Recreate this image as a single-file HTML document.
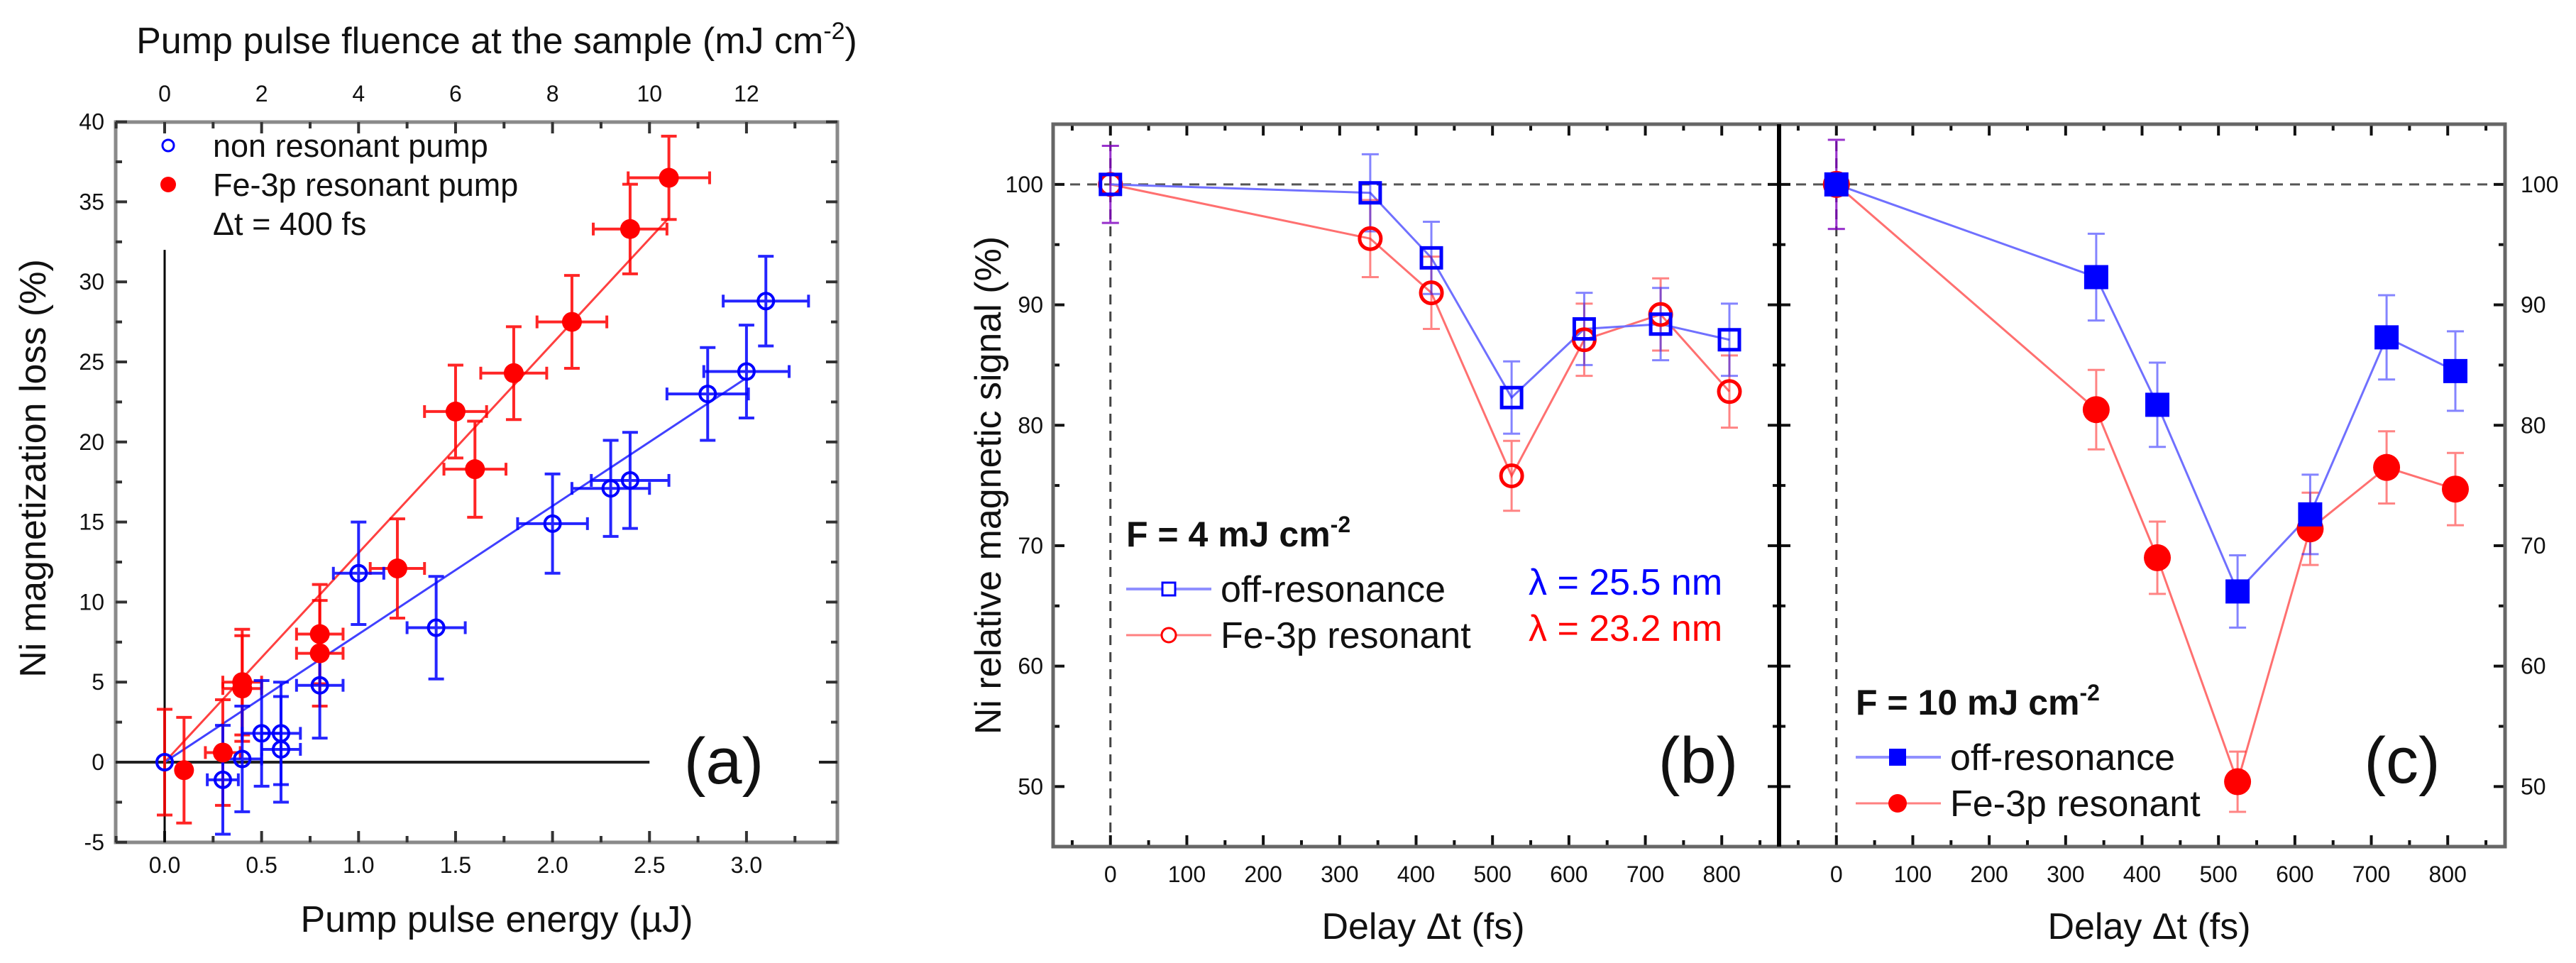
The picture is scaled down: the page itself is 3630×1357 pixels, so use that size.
<!DOCTYPE html>
<html><head><meta charset="utf-8"><style>
html,body{margin:0;padding:0;background:#fff;}
svg{display:block;font-family:"Liberation Sans",Arial,sans-serif;}
</style></head><body>
<svg id="chart" width="3630" height="1357" viewBox="0 0 3630 1357" xmlns="http://www.w3.org/2000/svg"></svg>
<script>
// ---- Panel (a) data ----
const aBlueX = [0, 0.3, 0.4, 0.5, 0.6, 0.6, 0.8, 1.0, 1.4, 2.0, 2.3, 2.4, 2.8, 3.0, 3.1];
const aBlueY = [0, -1.1, 0.2, 1.8, 1.8, 0.8, 4.8, 11.8, 8.4, 14.9, 17.1, 17.6, 23.0, 24.4, 28.8];
const aBlueYErr = [0, 3.4, 3.3, 3.3, 3.2, 3.3, 3.3, 3.2, 3.2, 3.1, 3.0, 3.0, 2.9, 2.9, 2.8];
const aBlueXErr = [0, 0.08, 0.1, 0.1, 0.1, 0.1, 0.12, 0.13, 0.15, 0.18, 0.2, 0.2, 0.21, 0.22, 0.22];
const aRedX = [0, 0.1, 0.3, 0.4, 0.4, 0.8, 0.8, 1.2, 1.5, 1.6, 1.8, 2.1, 2.4, 2.6];
const aRedY = [0, -0.5, 0.6, 5.0, 4.6, 8.0, 6.8, 12.1, 21.9, 18.3, 24.3, 27.5, 33.3, 36.5];
const aRedYErr = [3.3, 3.3, 3.3, 3.3, 3.3, 3.1, 3.3, 3.1, 2.9, 3.0, 2.9, 2.9, 2.8, 2.6];
const aRedXErr = [0, 0, 0.09, 0.1, 0.1, 0.12, 0.12, 0.14, 0.16, 0.16, 0.17, 0.18, 0.19, 0.21];
const aFitRed = [[0, 0], [2.6, 34]];
const aFitBlue = [[0, 0], [3.0, 24]];
const aXTicks = [0.0, 0.5, 1.0, 1.5, 2.0, 2.5, 3.0];
const aXTickLabels = ["0.0","0.5","1.0","1.5","2.0","2.5","3.0"];
const aYTicks = [-5, 0, 5, 10, 15, 20, 25, 30, 35, 40];
const aTopTicks = [0, 2, 4, 6, 8, 10, 12];
// ---- Panels (b),(c) data ----
const delays = [0, 340, 420, 525, 620, 720, 810];
const bOff = [100, 99.3, 93.9, 82.3, 88.0, 88.4, 87.1];
const bRes = [100, 95.5, 91.0, 75.8, 87.1, 89.2, 82.8];
const bOffErr = [3.2, 3.2, 3.0, 3.0, 3.0, 3.0, 3.0];
const bResErr = [3.2, 3.2, 3.0, 2.9, 3.0, 3.0, 3.0];
const cOff = [100, 92.3, 81.7, 66.2, 72.6, 87.3, 84.5];
const cRes = [100, 81.3, 69.0, 50.4, 71.4, 76.5, 74.7];
const cOffErr = [3.7, 3.6, 3.5, 3.0, 3.3, 3.5, 3.3];
const cResErr = [3.7, 3.3, 3.0, 2.5, 3.0, 3.0, 3.0];
const dXTicks = [0, 100, 200, 300, 400, 500, 600, 700, 800];
const dYTicks = [50, 60, 70, 80, 90, 100];

const svg = document.getElementById('chart');
const NS = 'http://www.w3.org/2000/svg';
function mk(tag, attrs, parent, text) {
  const e = document.createElementNS(NS, tag);
  for (const k in attrs) e.setAttribute(k, attrs[k]);
  if (text !== undefined) e.textContent = text;
  (parent || svg).appendChild(e);
  return e;
}
function grp(name) {
  const g = mk('g', {});
  
  
  return g;
}

// ===== Panel (a) =====
const AL = 163, AR = 1180, AT = 172, AB = 1187;
const ax = v => 232 + v * 273.3;
const ay = v => 1074 - v * 22.56;
const ga = grp('panel-a');
const aFrame = mk('rect', {x: AL, y: AT, width: AR - AL, height: AB - AT, fill: 'none', stroke: '#8a8a8a', 'stroke-width': 5}, ga);


// ticks
for (let v = -0.25; v <= 3.4; v += 0.25) {
  const major = Math.abs(v * 2 - Math.round(v * 2)) < 1e-6;
  const L = major ? 16 : 9;
  mk('line', {x1: ax(v), x2: ax(v), y1: AB, y2: AB - L, stroke: '#333', 'stroke-width': 4}, ga);
  mk('line', {x1: ax(v), x2: ax(v), y1: AT, y2: AT + L, stroke: '#333', 'stroke-width': 4}, ga);
}
for (let v = -5; v <= 40; v += 2.5) {
  const major = v % 5 === 0;
  const L = major ? 16 : 9;
  mk('line', {x1: AL, x2: AL + L, y1: ay(v), y2: ay(v), stroke: '#333', 'stroke-width': 4}, ga);
  mk('line', {x1: AR, x2: AR - L, y1: ay(v), y2: ay(v), stroke: '#333', 'stroke-width': 4}, ga);
}
aXTicks.forEach((v, i) => {
  const t = mk('text', {x: ax(v), y: 1230, 'font-size': 32, 'text-anchor': 'middle', fill: '#111'}, ga, aXTickLabels[i]);
  
  
});
aYTicks.forEach(v => {
  const t = mk('text', {x: 147, y: ay(v) + 11, 'font-size': 32, 'text-anchor': 'end', fill: '#111'}, ga, String(v));
  
  
});
aTopTicks.forEach(v => {
  const t = mk('text', {x: ax(v / 4), y: 143, 'font-size': 32, 'text-anchor': 'middle', fill: '#111'}, ga, String(v));
  
  
});
// titles
let t = mk('text', {x: 700, y: 75, 'font-size': 52, 'text-anchor': 'middle', fill: '#111'}, ga);


t.innerHTML = 'Pump pulse fluence at the sample (mJ cm<tspan dy="-20" font-size="34">-2</tspan><tspan dy="20">)</tspan>';
t = mk('text', {x: 700, y: 1313, 'font-size': 52, 'text-anchor': 'middle', fill: '#111'}, ga, 'Pump pulse energy (\u00b5J)');


t = mk('text', {x: 0, y: 0, 'font-size': 52, 'text-anchor': 'middle', fill: '#111', transform: 'translate(64,660) rotate(-90)'}, ga, 'Ni magnetization loss (%)');


// reference lines
mk('line', {x1: ax(0), x2: ax(0), y1: ay(32), y2: AB, stroke: '#000', 'stroke-width': 3}, ga);
mk('line', {x1: AL, x2: ax(2.5), y1: ay(0), y2: ay(0), stroke: '#222', 'stroke-width': 4}, ga);
mk('line', {x1: 1154, x2: AR, y1: ay(0), y2: ay(0), stroke: '#222', 'stroke-width': 4}, ga);
// fits
mk('line', {x1: ax(aFitRed[0][0]), y1: ay(aFitRed[0][1]), x2: ax(aFitRed[1][0]), y2: ay(aFitRed[1][1]), stroke: '#ff4040', 'stroke-width': 3}, ga);
mk('line', {x1: ax(aFitBlue[0][0]), y1: ay(aFitBlue[0][1]), x2: ax(aFitBlue[1][0]), y2: ay(aFitBlue[1][1]), stroke: '#4040ff', 'stroke-width': 3}, ga);
function errA(x, y, xe, ye, col) {
  const g = mk('g', {stroke: col, 'stroke-width': 4, opacity: 0.85}, ga);
  mk('line', {x1: ax(x), x2: ax(x), y1: ay(y - ye), y2: ay(y + ye)}, g);
  mk('line', {x1: ax(x) - 11, x2: ax(x) + 11, y1: ay(y - ye), y2: ay(y - ye)}, g);
  mk('line', {x1: ax(x) - 11, x2: ax(x) + 11, y1: ay(y + ye), y2: ay(y + ye)}, g);
  if (xe > 0) {
    mk('line', {x1: ax(x - xe), x2: ax(x + xe), y1: ay(y), y2: ay(y)}, g);
    mk('line', {x1: ax(x - xe), x2: ax(x - xe), y1: ay(y) - 9, y2: ay(y) + 9}, g);
    mk('line', {x1: ax(x + xe), x2: ax(x + xe), y1: ay(y) - 9, y2: ay(y) + 9}, g);
  }
}
aRedX.forEach((x, i) => errA(x, aRedY[i], aRedXErr[i], aRedYErr[i], '#ff0000'));
aBlueX.forEach((x, i) => { if (i > 0) errA(x, aBlueY[i], aBlueXErr[i], aBlueYErr[i], '#0000ff'); });
aRedX.forEach((x, i) => {
  if (i === 0) return;
  const c = mk('circle', {cx: ax(x), cy: ay(aRedY[i]), r: 14, fill: '#ff0000'}, ga);
  
  
});
aBlueX.forEach((x, i) => {
  const c = mk('circle', {cx: ax(x), cy: ay(aBlueY[i]), r: 11, fill: 'none', stroke: '#0000ff', 'stroke-width': 4}, ga);
  
  
});
// legend a
const lga = grp('legend-a');
mk('circle', {cx: 237, cy: 205, r: 8, fill: 'none', stroke: '#0000ff', 'stroke-width': 3}, lga);
mk('circle', {cx: 237, cy: 260, r: 11, fill: '#ff0000'}, lga);
mk('text', {x: 300, y: 221, 'font-size': 45, fill: '#111'}, lga, 'non resonant pump');
mk('text', {x: 300, y: 276, 'font-size': 45, fill: '#111'}, lga, 'Fe-3p resonant pump');
mk('text', {x: 300, y: 331, 'font-size': 45, fill: '#111'}, lga, '\u0394t = 400 fs');
t = mk('text', {x: 1020, y: 1104, 'font-size': 92, 'text-anchor': 'middle', fill: '#111'}, ga, '(a)');



// ===== Panels (b),(c) =====
const DT = 175, DB = 1193;
const dy = v => DT + (105 - v) * 16.97;
function panel(name, L, R, off, res, offE, resE, filled, legendX, legendY, title, lbl, lblX, leftLabels) {
  const g = grp(name);
  const dx = v => L + (v + 75) * (R - L) / 950;
  // dashed lines
  mk('line', {x1: dx(0), x2: dx(0), y1: DT, y2: DB, stroke: '#444', 'stroke-width': 3, 'stroke-dasharray': '14,10'}, g);
  mk('line', {x1: L, x2: R, y1: dy(100), y2: dy(100), stroke: '#555', 'stroke-width': 3, 'stroke-dasharray': '14,10'}, g);
  // ticks
  for (let v = -50; v <= 850; v += 50) {
    const L2 = v % 100 === 0 ? 16 : 9;
    mk('line', {x1: dx(v), x2: dx(v), y1: DB, y2: DB - L2, stroke: '#111', 'stroke-width': 4}, g);
    mk('line', {x1: dx(v), x2: dx(v), y1: DT, y2: DT + L2, stroke: '#111', 'stroke-width': 4}, g);
  }
  for (let v = 50; v <= 100; v += 5) {
    const L2 = v % 10 === 0 ? 16 : 9;
    mk('line', {x1: L, x2: L + L2, y1: dy(v), y2: dy(v), stroke: '#111', 'stroke-width': 4}, g);
    mk('line', {x1: R, x2: R - L2, y1: dy(v), y2: dy(v), stroke: '#111', 'stroke-width': 4}, g);
  }
  dXTicks.forEach(v => {
    const tt = mk('text', {x: dx(v), y: 1243, 'font-size': 32, 'text-anchor': 'middle', fill: '#111'}, g, String(v));
    
    
  });
  dYTicks.forEach(v => {
    const tt = leftLabels
      ? mk('text', {x: L - 14, y: dy(v) + 11, 'font-size': 32, 'text-anchor': 'end', fill: '#111'}, g, String(v))
      : mk('text', {x: R + 22, y: dy(v) + 11, 'font-size': 32, 'text-anchor': 'start', fill: '#111'}, g, String(v));
    
    
  });
  const xt = mk('text', {x: (L + R) / 2 + 10, y: 1323, 'font-size': 52, 'text-anchor': 'middle', fill: '#111'}, g, 'Delay \u0394t (fs)');
  
  
  // lines
  const pts = arr => arr.map((v, i) => dx(delays[i]) + ',' + dy(v)).join(' ');
  mk('polyline', {points: pts(res), fill: 'none', stroke: '#ff7070', 'stroke-width': 3}, g);
  mk('polyline', {points: pts(off), fill: 'none', stroke: '#7070ff', 'stroke-width': 3}, g);
  // error bars
  function eb(x, v, e, col) {
    const eg = mk('g', {stroke: col, 'stroke-width': 3, opacity: 0.55}, g);
    mk('line', {x1: x, x2: x, y1: dy(v - e), y2: dy(v + e)}, eg);
    mk('line', {x1: x - 12, x2: x + 12, y1: dy(v - e), y2: dy(v - e)}, eg);
    mk('line', {x1: x - 12, x2: x + 12, y1: dy(v + e), y2: dy(v + e)}, eg);
  }
  res.forEach((v, i) => eb(dx(delays[i]), v, resE[i], i === 0 ? '#8000c0' : '#ff2020'));
  off.forEach((v, i) => eb(dx(delays[i]), v, offE[i], i === 0 ? '#8000c0' : '#2020ff'));
  res.forEach((v, i) => {
    const c = filled
      ? mk('circle', {cx: dx(delays[i]), cy: dy(v), r: 19, fill: '#ff0000'}, g)
      : mk('circle', {cx: dx(delays[i]), cy: dy(v), r: 15, fill: 'none', stroke: '#ff0000', 'stroke-width': 5}, g);
    
    
  });
  off.forEach((v, i) => {
    const s = filled ? 34 : 28;
    const r = filled
      ? mk('rect', {x: dx(delays[i]) - s / 2, y: dy(v) - s / 2, width: s, height: s, fill: '#0000ff'}, g)
      : mk('rect', {x: dx(delays[i]) - s / 2, y: dy(v) - s / 2, width: s, height: s, fill: 'none', stroke: '#0000ff', 'stroke-width': 5}, g);
    
    
  });
  // legend
  const lg = mk('g', {}, g);
  
  
  const tl = mk('text', {x: legendX, y: legendY, 'font-size': 50, 'font-weight': 'bold', fill: '#111'}, lg);
  tl.innerHTML = title + ' mJ cm<tspan dy="-20" font-size="32">-2</tspan>';
  const y1 = legendY + 60, y2 = legendY + 125;
  mk('line', {x1: legendX, x2: legendX + 120, y1: y1, y2: y1, stroke: '#9090ff', 'stroke-width': 4}, lg);
  mk('line', {x1: legendX, x2: legendX + 120, y1: y2, y2: y2, stroke: '#ff8080', 'stroke-width': 3}, lg);
  if (filled) {
    mk('rect', {x: legendX + 47, y: y1 - 12, width: 24, height: 24, fill: '#0000ff'}, lg);
    mk('circle', {cx: legendX + 59, cy: y2, r: 13, fill: '#ff0000'}, lg);
  } else {
    mk('rect', {x: legendX + 51, y: y1 - 9, width: 18, height: 18, fill: '#fff', stroke: '#0000ff', 'stroke-width': 3}, lg);
    mk('circle', {cx: legendX + 60, cy: y2, r: 10, fill: '#fff', stroke: '#ff0000', 'stroke-width': 3}, lg);
  }
  mk('text', {x: legendX + 133, y: y1 + 18, 'font-size': 52, fill: '#111'}, lg, 'off-resonance');
  mk('text', {x: legendX + 133, y: y2 + 18, 'font-size': 52, fill: '#111'}, lg, 'Fe-3p resonant');
  const pl = mk('text', {x: lblX, y: 1103, 'font-size': 92, 'text-anchor': 'middle', fill: '#111'}, g, lbl);
  
  
  return {g, dx};
}
const pb = panel('panel-b', 1484, 2507, bOff, bRes, bOffErr, bResErr, false, 1587, 770, 'F = 4', '(b)', 2393, true);
const lb1 = mk('text', {x: 2154, y: 838, 'font-size': 52, fill: '#0000ff'}, pb.g, '\u03bb = 25.5 nm');


const lb2 = mk('text', {x: 2154, y: 903, 'font-size': 52, fill: '#ff0000'}, pb.g, '\u03bb = 23.2 nm');


const pc = panel('panel-c', 2507, 3530, cOff, cRes, cOffErr, cResErr, true, 2615, 1007, 'F = 10', '(c)', 3385, false);
// frames
mk('rect', {x: 1484, y: DT, width: 2046, height: DB - DT, fill: 'none', stroke: '#666', 'stroke-width': 5});
mk('line', {x1: 2507, x2: 2507, y1: DT, y2: DB, stroke: '#000', 'stroke-width': 6});
t = mk('text', {x: 0, y: 0, 'font-size': 52, 'text-anchor': 'middle', fill: '#111', transform: 'translate(1410,684) rotate(-90)'}, svg, 'Ni relative magnetic signal (%)');


</script>
</body></html>
